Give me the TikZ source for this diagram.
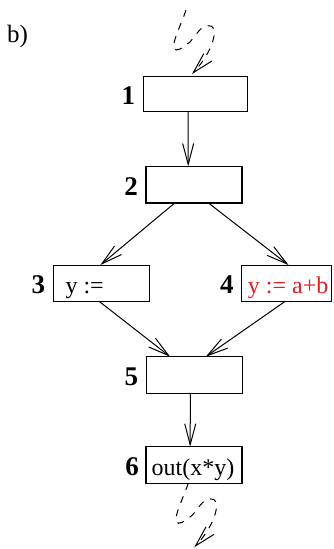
\documentclass[tikz,border=0pt]{standalone}
\usepackage{fontspec}
\setmainfont{Liberation Serif}
\usetikzlibrary{arrows.meta,calc}
\definecolor{tred}{RGB}{225,30,30}
\begin{document}
\begin{tikzpicture}[x=1pt,y=-1pt,
  box/.style={draw, line width=1.1pt, minimum width=#1, minimum height=36.5pt, inner sep=0pt, outer sep=0pt},
  lbl/.style={font=\fontsize{27}{30}\selectfont\bfseries, anchor=base east, inner sep=0pt},
  txt/.style={font=\fontsize{24}{28}\selectfont, anchor=base west, inner sep=0pt},
  arr/.style={line width=1pt, -{Straight Barb[length=21pt,width=11pt]}},
  dasharr/.style={arr, dash pattern=on 7pt off 7pt},
  squiggle/.pic={\draw[dasharr] (0,0) .. controls (-5,15) and (-14,32) .. (-12,38)
     .. controls (-10,43) and (-4,38) .. (4,32) -- (12,22)
     .. controls (18,14) and (26,14) .. (28,19)
     .. controls (30,26) and (24,45) .. (6,64);}]
\useasboundingbox (0,0) rectangle (334,549);

\node[txt, font=\fontsize{25}{29}\selectfont] (cap) at (7,42) {b)};

\node[box=104pt, minimum height=34.5pt] (b1) at (195.3,94) {};
\node[box=96pt] (b2) at (194,184.7) {};
\node[box=96pt] (b3) at (101.3,283.3) {};
\node[box=90pt] (b4) at (286.7,283.3) {};
\node[box=96pt] (b5) at (194.2,375) {};
\node[box=96pt] (b6) at (194,465) {};

\node[lbl] (l1) at ($(b1.west)+(-8,10.5)$) {1};
\node[lbl] (l2) at ($(b2.west)+(-8,10.5)$) {2};
\node[lbl] (l3) at ($(b3.west)+(-8,10.5)$) {3};
\node[lbl] (l4) at ($(b4.west)+(-8,10.5)$) {4};
\node[lbl] (l5) at ($(b5.west)+(-8,10.5)$) {5};
\node[lbl] (l6) at ($(b6.west)+(-7,10.5)$) {6};

\node[txt] (t3) at ($(b3.west)+(12,10)$) {y :=};
\node[txt, text=tred] (t4) at ($(b4.west)+(6,10)$) {y := a+b};
\node[txt] (t6) at ($(b6.west)+(5.5,10)$) {out(x*y)};

\draw[arr] ($(b1.south west)!0.43!(b1.south east)$) -- ($(b2.north west)!0.44!(b2.north east)$);
\draw[arr] ($(b2.south west)!0.30!(b2.south east)$) -- ($(b3.north west)!0.49!(b3.north east)$);
\draw[arr] ($(b2.south west)!0.65!(b2.south east)$) -- ($(b4.north west)!0.52!(b4.north east)$);
\draw[arr] ($(b3.south west)!0.48!(b3.south east)$) -- ($(b5.north west)!0.25!(b5.north east)$);
\draw[arr] ($(b4.south west)!0.48!(b4.south east)$) -- ($(b5.north west)!0.62!(b5.north east)$);
\draw[arr] ($(b5.south west)!0.46!(b5.south east)$) -- ($(b6.north west)!0.46!(b6.north east)$);

\coordinate (in) at (186,10);
\coordinate (out) at ($(b6.south west)!0.44!(b6.south east)$);
\pic at (in) {squiggle};
\pic at (out) {squiggle};
\end{tikzpicture}
\end{document}
